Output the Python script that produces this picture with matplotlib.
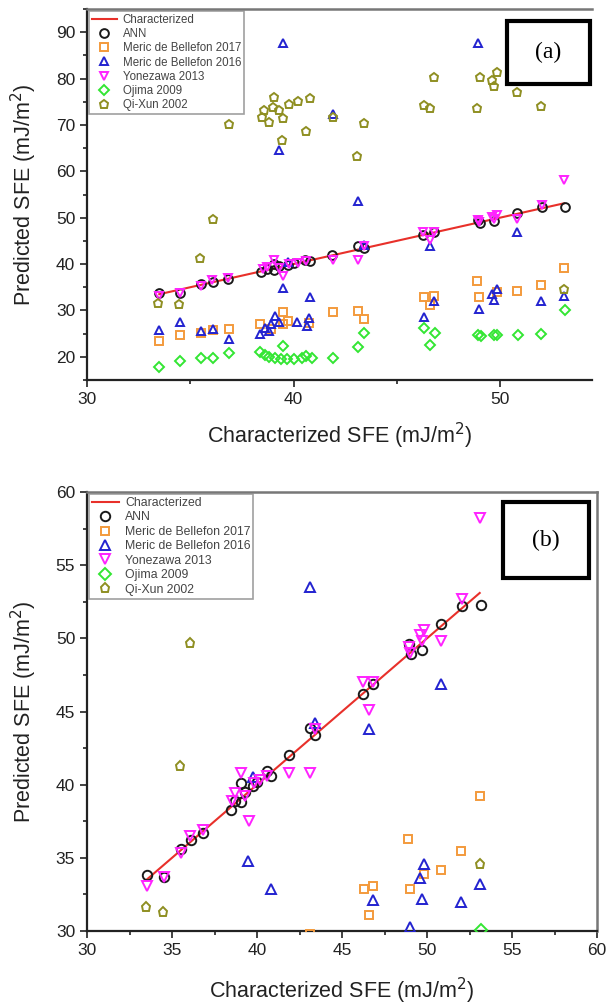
import numpy as np
import matplotlib
matplotlib.use('Agg')
import matplotlib.pyplot as plt
from matplotlib.patches import Rectangle
from matplotlib.ticker import MultipleLocator

plt.rcParams['font.family'] = ['Liberation Sans', 'DejaVu Sans']

# Characterized SFE range (y = x reference line)
char_sfe = [33.5, 53.1]

# ANN predictions
ann_x = [33.5, 34.5, 35.5, 36.1, 36.85, 38.45, 38.7, 39.04, 39.06, 39.3, 39.75, 40.0,
         40.57, 40.8, 41.88, 43.1, 43.4, 46.25, 46.8, 48.94, 49.04, 49.7, 50.8, 52.04, 53.15]
ann_y = [33.8, 33.7, 35.6, 36.2, 36.7, 38.3, 38.9, 38.8, 40.1, 39.5, 39.9, 40.2,
         40.9, 40.6, 42.0, 43.9, 43.4, 46.2, 46.9, 49.6, 48.9, 49.2, 51.0, 52.2, 52.3]

# Meric de Bellefon 2017
m17_x = [33.5, 34.5, 35.5, 36.1, 36.9, 38.4, 38.9, 39.5, 39.5, 39.75, 40.77, 41.9,
         43.1, 43.4, 46.3, 46.6, 46.8, 48.9, 49.0, 49.84, 50.8, 52.0, 53.1]
m17_y = [23.4, 24.7, 25.2, 25.7, 26.1, 27.0, 26.0, 29.6, 27.0, 27.7, 27.3, 29.6,
         29.8, 28.2, 32.9, 31.1, 33.1, 36.3, 32.9, 33.9, 34.2, 35.5, 39.2]

# Meric de Bellefon 2016
m16_x = [33.5, 34.5, 35.5, 36.1, 36.9, 38.4, 38.6, 38.8, 38.9, 39.1, 39.3, 39.48, 39.31,
         39.48, 39.75, 40.15, 40.64, 40.77, 40.8, 41.9, 43.1, 43.4, 46.34, 46.6, 46.8,
         48.95, 49.0, 49.6, 49.7, 49.84, 50.8, 52.0, 53.1]
m16_y = [25.8, 27.6, 25.5, 26.0, 23.8, 25.0, 26.2, 25.5, 27.0, 28.8, 27.5, 87.7, 64.6,
         34.8, 40.5, 27.5, 26.6, 28.4, 32.9, 72.3, 53.5, 44.2, 28.6, 43.8, 32.1,
         87.7, 30.3, 33.6, 32.2, 34.6, 46.9, 32.0, 33.2]

# Yonezawa 2013
yon_x = [33.5, 34.5, 35.5, 36.06, 36.84, 38.5, 38.7, 39.06, 39.3, 39.5, 39.8, 40.2,
         40.6, 41.9, 43.1, 43.4, 46.25, 46.6, 46.8, 48.94, 49.0, 49.6, 49.84, 49.7,
         50.8, 52.04, 53.1]
yon_y = [33.1, 33.7, 35.3, 36.5, 36.9, 38.9, 39.4, 40.8, 39.2, 37.5, 40.1, 40.3,
         40.6, 40.8, 40.8, 43.8, 47.0, 45.1, 47.0, 49.4, 49.0, 50.2, 50.6, 49.8,
         49.8, 52.7, 58.2]

# Ojima 2009
oji_x = [33.5, 34.5, 35.5, 36.1, 36.9, 38.4, 38.6, 38.8, 39.1, 39.5, 39.4, 39.7, 40.0,
         40.4, 40.6, 40.9, 41.9, 43.1, 43.4, 46.34, 46.6, 46.86, 48.95, 49.1, 49.72,
         49.84, 50.86, 52.0, 53.15]
oji_y = [17.8, 19.0, 19.7, 19.7, 20.9, 21.0, 20.3, 19.9, 19.7, 22.3, 19.5, 19.5, 19.6,
         19.8, 20.1, 19.8, 19.7, 22.1, 25.2, 26.2, 22.6, 25.2, 24.8, 24.4, 24.8,
         24.6, 24.8, 24.9, 30.1]

# Qi-Xun 2002
qx_x = [33.45, 34.46, 35.47, 36.08, 36.9, 38.46, 38.59, 38.83, 39.02, 39.07, 39.31, 39.48,
        39.43, 39.8, 40.2, 40.6, 40.8, 41.9, 43.06, 43.4, 46.34, 46.6, 46.82, 48.9,
        49.03, 49.63, 49.7, 49.84, 50.84, 52.0, 53.1]
qx_y = [31.65, 31.3, 41.3, 49.7, 70.15, 71.65, 73.2, 70.6, 73.8, 76.1, 73.2, 71.4,
        66.8, 74.5, 75.2, 68.7, 75.9, 71.8, 63.3, 70.5, 74.3, 73.6, 80.26, 73.6,
        80.26, 79.7, 78.5, 81.46, 77.0, 74.1, 34.6]

series = [
    (ann_x, ann_y, 'o', '#1a1a1a', 'ANN'),
    (m17_x, m17_y, 's', '#f39a3c', 'Meric de Bellefon 2017'),
    (m16_x, m16_y, '^', '#2323d0', 'Meric de Bellefon 2016'),
    (yon_x, yon_y, 'v', '#ff22ff', 'Yonezawa 2013'),
    (oji_x, oji_y, 'D', '#33e633', 'Ojima 2009'),
    (qx_x, qx_y, 'p', '#8f8f22', 'Qi-Xun 2002'),
]


def draw_panel(ax, ms, legend_fs):
    ax.plot(char_sfe, char_sfe, color='#e8302a', lw=1.5, label='Characterized', zorder=3)
    for xs, ys, mk, col, lab in series:
        size = ms * 0.85 if mk in ('s', 'D') else ms
        ax.plot(xs, ys, mk, ls='none', mfc='none', mec=col, mew=1.4, ms=size,
                label=lab, zorder=4)
    leg = ax.legend(loc='upper left', fontsize=legend_fs, frameon=True, fancybox=False,
                    edgecolor='#888888', borderaxespad=0.15, handlelength=2.2,
                    handletextpad=0.5, labelspacing=0.2, borderpad=0.25)
    leg.get_frame().set_linewidth(1.2)
    for t in leg.get_texts():
        t.set_color('#444444')
    ax.set_xlabel('Characterized SFE (mJ/m$^2$)', fontsize=15.5, color='#222222')
    ax.set_ylabel('Predicted SFE (mJ/m$^2$)', fontsize=15.5, color='#222222', labelpad=12)
    ax.tick_params(which='both', direction='out', colors='#222222', labelsize=12.5,
                   top=False, right=False)
    ax.tick_params(which='major', length=5, width=1.2)
    ax.tick_params(which='minor', length=3, width=1.2)
    for side in ('left', 'bottom'):
        ax.spines[side].set_color('#222222')
        ax.spines[side].set_linewidth(1.6)
    for side in ('top', 'right'):
        ax.spines[side].set_color('#777777')
        ax.spines[side].set_linewidth(1.8)


fig = plt.figure(figsize=(6.13, 10.07), dpi=100)

# panel (a): full range
ax1 = fig.add_axes([87 / 613, 1 - 380 / 1007, 505 / 613, 371 / 1007])
draw_panel(ax1, 6.3, 8.3)
ax1.set_xlim(30, 30 + 505 / 20.65)
ax1.set_ylim(15, 95)
ax1.xaxis.set_major_locator(MultipleLocator(10))
ax1.xaxis.set_minor_locator(MultipleLocator(5))
ax1.yaxis.set_major_locator(MultipleLocator(10))
ax1.yaxis.set_minor_locator(MultipleLocator(5))
ax1.spines['right'].set_visible(False)
ax1.xaxis.labelpad = 10

# panel (b): zoom on the diagonal
ax2 = fig.add_axes([87 / 613, 1 - 931 / 1007, 510 / 613, 439 / 1007])
draw_panel(ax2, 6.8, 8.8)
ax2.set_xlim(30, 60)
ax2.set_ylim(30, 60)
ax2.xaxis.set_major_locator(MultipleLocator(5))
ax2.xaxis.set_minor_locator(MultipleLocator(2.5))
ax2.yaxis.set_major_locator(MultipleLocator(5))
ax2.yaxis.set_minor_locator(MultipleLocator(2.5))
ax2.xaxis.labelpad = 13

# panel tags
for (x0, y0, x1, y1), tag in [((507, 21, 590, 84), '(a)'), ((503, 502, 589, 578), '(b)')]:
    fig.patches.append(Rectangle((x0 / 613, 1 - y1 / 1007), (x1 - x0) / 613, (y1 - y0) / 1007,
                                 transform=fig.transFigure, fill=True, facecolor='white',
                                 edgecolor='black', lw=3, zorder=10))
    fig.text((x0 + x1) / 2 / 613, 1 - (y0 + y1) / 2 / 1007, tag, ha='center', va='center',
             fontsize=17, family='Liberation Serif', zorder=11)

fig.savefig('out.png', dpi=100)
